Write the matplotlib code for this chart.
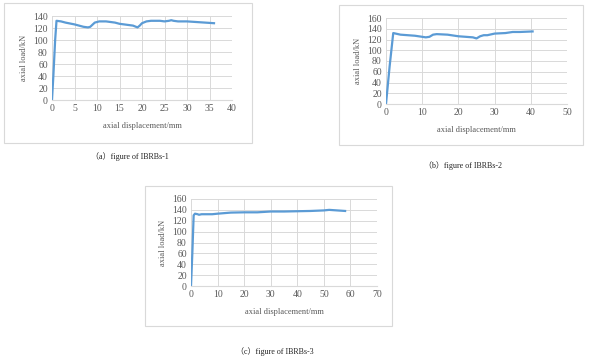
import matplotlib
matplotlib.use("Agg")
import matplotlib.pyplot as plt
from matplotlib.patches import Rectangle

plt.rcParams['font.family'] = ['Liberation Serif', 'Noto Sans CJK SC']

# IBRBs-1
disp_1 = [0, 0.3, 0.7, 1, 2, 3, 5, 7, 8, 8.5, 9.5, 10.5, 12, 14, 15, 16, 18, 19, 19.5,
          20, 21, 22, 24, 25, 26, 26.5, 27, 28, 30, 32, 34, 36]
load_1 = [0, 40, 100, 132, 131, 129, 126, 122, 121, 122, 129, 131, 131, 129, 127, 126, 124, 121, 124,
          128, 131, 132, 132, 131, 132, 133, 132, 131, 131, 130, 129, 128]

# IBRBs-2
disp_2 = [0, 1, 2, 4, 6, 8, 10, 11, 12, 13, 14, 17, 18, 20, 24, 25, 26, 27, 28, 30, 33, 35, 37, 40.5]
load_2 = [0, 70, 132, 129, 128, 127, 125, 124, 125, 129, 130, 129, 128, 126, 124, 122, 126, 128, 128,
          131, 132, 134, 134, 135]

# IBRBs-3
disp_3 = [0, 0.5, 1, 1.5, 2.5, 3, 4, 8, 10, 15, 20, 25, 30, 35, 40, 45, 50, 52, 55, 58]
load_3 = [0, 60, 130, 133, 132, 131, 132, 132, 133, 135, 135.5, 135.5, 137, 137, 137.5, 138, 139, 140,
          139, 138]

captions = ['（a）figure of IBRBs-1', '（b）figure of IBRBs-2', '（c）figure of IBRBs-3']

line_color = '#5B9BD5'
grid_color = '#d9d9d9'
text_color = '#595959'

fig = plt.figure(figsize=(6, 3.62), dpi=100)

W, H = 600, 362


def px_rect(x0, y0, x1, y1):
    return [x0 / W, 1 - y1 / H, (x1 - x0) / W, (y1 - y0) / H]


# outer boxes
for x0, y0, x1, y1 in [(4, 3, 252, 143), (339, 5, 583, 145), (145, 186, 392, 326)]:
    l, b, w, h = px_rect(x0, y0, x1, y1)
    fig.patches.append(Rectangle((l, b), w, h, transform=fig.transFigure,
                                 facecolor='none', edgecolor=grid_color, linewidth=0.8))

panels = [
    (disp_1, load_1, px_rect(52, 16, 232, 100), 40, 5, 140),
    (disp_2, load_2, px_rect(386, 18, 567, 104), 50, 10, 160),
    (disp_3, load_3, px_rect(191, 199, 377, 286), 70, 10, 160),
]

for x, y, rect, xmax, xstep, ymax in panels:
    ax = fig.add_axes(rect)
    ax.plot(x, y, color=line_color, linewidth=1.6)
    ax.set_xlim(0, xmax)
    ax.set_ylim(0, ymax)
    ax.set_xticks(range(0, xmax + 1, xstep))
    ax.set_yticks(range(0, ymax + 1, 20))
    ax.grid(True, color=grid_color, linewidth=0.7)
    ax.set_axisbelow(True)
    for s in ['top', 'right', 'left']:
        ax.spines[s].set_visible(False)
    ax.spines['bottom'].set_color(grid_color)
    ax.tick_params(length=0, labelsize=7, colors=text_color, pad=3)
    ax.set_xlabel('axial displacement/mm', fontsize=6, color=text_color, labelpad=6)
    ax.set_ylabel('axial load/kN', fontsize=6, color=text_color, labelpad=4)
    ax.set_facecolor('none')

for (cx, cy), txt in zip([(130, 157), (463, 166), (275, 352)], captions):
    fig.text(cx / W, 1 - cy / H, txt, ha='center', va='center', fontsize=5.8, color='#222222')

fig.savefig('out.png', dpi=100)
